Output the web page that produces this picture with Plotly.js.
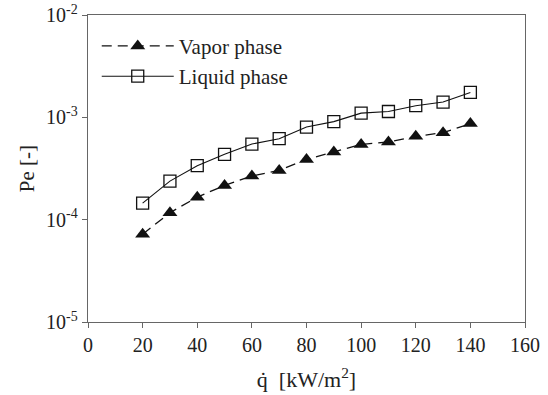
<!DOCTYPE html>
<html><head><meta charset="utf-8">
<script src="https://cdn.plot.ly/plotly-3.0.1.min.js"></script>
<style>html,body{margin:0;padding:0;background:#fff}#chart{width:548px;height:395px}</style>
</head><body><div id="chart"></div>
<script>
const heatFlux = [20, 30, 40, 50, 60, 70, 80, 90, 100, 110, 120, 130, 140];
const vaporPe = [7.2e-5, 1.17e-4, 1.66e-4, 2.16e-4, 2.67e-4, 3.03e-4, 3.88e-4, 4.58e-4, 5.44e-4, 5.74e-4, 6.52e-4, 7.08e-4, 8.68e-4];
const liquidPe = [1.45e-4, 2.38e-4, 3.37e-4, 4.35e-4, 5.48e-4, 6.18e-4, 8.04e-4, 9.08e-4, 1.10e-3, 1.14e-3, 1.30e-3, 1.41e-3, 1.75e-3];
const yTickVals = [1e-5, 1e-4, 1e-3, 1e-2];
const yTickText = ['10<sup>-5</sup>', '10<sup>-4</sup>', '10<sup>-3</sup>', '10<sup>-2</sup>'];
const xTickVals = [0, 20, 40, 60, 80, 100, 120, 140, 160];

const fam = '"Liberation Serif", "Times New Roman", serif';
const traces = [
  {x: heatFlux, y: vaporPe, name: 'Vapor phase', type: 'scatter', mode: 'lines+markers',
   line: {color: '#111', width: 1.3, dash: '10px,6px'},
   marker: {symbol: 'triangle-up', size: 13, color: '#111', line: {width: 0}}},
  {x: heatFlux, y: liquidPe, name: 'Liquid phase', type: 'scatter', mode: 'lines+markers',
   line: {color: '#111', width: 1.1},
   marker: {symbol: 'square-open', size: 12, color: '#111', line: {width: 1.3}}}
];
const layout = {
  width: 548, height: 395,
  margin: {l: 88, r: 23, t: 15, b: 73},
  paper_bgcolor: '#fff', plot_bgcolor: '#fff',
  font: {family: fam, color: '#222', size: 20},
  showlegend: true,
  legend: {x: 0.02, y: 0.965, xanchor: 'left', yanchor: 'top', bgcolor: 'rgba(0,0,0,0)',
           font: {family: fam, size: 21, color: '#222'}, tracegroupgap: 0, itemwidth: 72},
  xaxis: {range: [0, 160], tickvals: xTickVals, ticks: 'outside', ticklen: 5, tickcolor: '#666',
          showline: true, linecolor: '#666', linewidth: 1.3, mirror: true, showgrid: false, zeroline: false,
          tickfont: {family: fam, size: 20, color: '#222'},
          title: {text: 'q\u0307  [kW/m<sup>2</sup>]', font: {family: fam, size: 22, color: '#222'}, standoff: 16}},
  yaxis: {type: 'log', range: [-5, -2], tickvals: yTickVals, ticktext: yTickText, ticks: 'outside', ticklen: 5,
          tickcolor: '#666', showline: true, linecolor: '#666', linewidth: 1.3, mirror: true, showgrid: false, zeroline: false,
          tickfont: {family: fam, size: 20, color: '#222'},
          title: {text: 'Pe [-]', font: {family: fam, size: 21, color: '#222'}, standoff: 5}}
};
Plotly.newPlot('chart', traces, layout, {displayModeBar: false, staticPlot: true});
</script></body></html>
